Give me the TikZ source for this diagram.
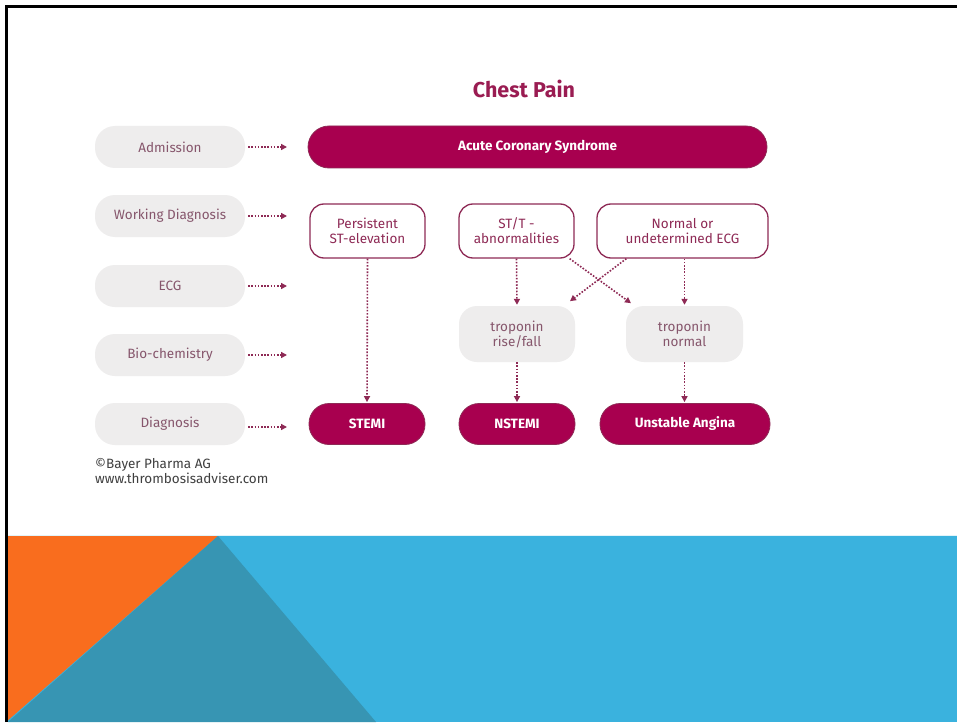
\documentclass[tikz,border=0pt]{standalone}
\usepackage{fontspec}
\setmainfont{Fira Sans}
\usetikzlibrary{arrows.meta}
\definecolor{acsred}{HTML}{A8004F}
\definecolor{acsline}{HTML}{8E2A55}
\definecolor{stagegray}{HTML}{EEEDED}
\definecolor{stagetext}{HTML}{86566C}
\definecolor{titlered}{HTML}{9A1C52}
\definecolor{bandorange}{HTML}{F96D1E}
\definecolor{bandblue}{HTML}{3AB2DE}
\definecolor{bandteal}{HTML}{3795B3}
\tikzset{
  stage/.style={fill=stagegray, rounded corners=20pt, minimum width=150pt,
    minimum height=42pt, inner sep=0pt, text=stagetext, font=\fontsize{13.5}{15}\selectfont},
  finding/.style={draw=acsline, line width=1.3pt, fill=white, rounded corners=14pt,
    minimum height=54pt, inner sep=0pt, align=center, text=acsline,
    font=\fontsize{13.5}{15}\selectfont},
  marker/.style={fill=stagegray, rounded corners=18pt, minimum height=56pt,
    inner sep=0pt, align=center, text=stagetext, font=\fontsize{13.5}{15}\selectfont},
  outcome/.style={fill=acsred, draw=acsline, line width=0.8pt, rounded corners=20pt,
    minimum height=41pt, inner sep=0pt, text=white, font=\bfseries\fontsize{13.5}{15}\selectfont},
  flow/.style={draw=acsline, line width=1.6pt, dash pattern=on 1.6pt off 1.6pt,
    -{Triangle[length=6pt,width=6pt]}, shorten >=1pt}
}
\begin{document}
\begin{tikzpicture}[x=1pt,y=-1pt]
\useasboundingbox (0,0) rectangle (957,722);
\fill[white] (0,0) rectangle (957,722);

% coloured band at the foot of the slide
\fill[bandblue] (6,536) rectangle (957,722);
\fill[bandorange] (6,536) -- (218,536) -- (6,722) -- cycle;
\fill[bandteal] (218,536) -- (376,722) -- (8,722) -- cycle;
\draw[white!85!bandblue, line width=1pt] (6,535.5) -- (957,535.5);

% slide frame
\draw[black, line width=3pt] (6.5,722) -- (6.5,6.5) -- (957,6.5);

% title
\node[text=titlered, font=\bfseries\fontsize{21.5}{24}\selectfont] (title) at (524,89) {Chest Pain};

% stage labels
\node[stage] (adm) at (170,147) {Admission};
\node[stage] (work) at (170,216) {Working Diagnosis};
\node[stage] (ecg) at (170,286) {ECG};
\node[stage] (bio) at (170,355) {Bio-chemistry};
\node[stage] (dia) at (170,424) {Diagnosis};

\coordinate (admE) at (288,147);
\coordinate (workE) at (288,216);
\coordinate (ecgE) at (288,286);
\coordinate (bioE) at (288,355);
\coordinate (diaE) at (288,427);
\foreach \s/\e in {adm/admE, work/workE, ecg/ecgE, bio/bioE, dia/diaE} {
  \draw[flow] ([xshift=3pt]\s.east |- \e) -- (\e);
}

% diagram boxes
\node[outcome, minimum width=459pt, rounded corners=21pt, minimum height=42pt] (acs) at (537.5,147) {Acute Coronary Syndrome};

\node[finding, minimum width=115pt] (stel) at (367.5,231) {Persistent\\ST-elevation};
\node[finding, minimum width=115pt] (stt) at (516.5,231) {ST/T -\\abnormalities};
\node[finding, minimum width=171pt] (norm) at (682.5,231) {Normal or\\undetermined ECG};

\node[marker, minimum width=116pt] (trise) at (517,334) {troponin\\rise/fall};
\node[marker, minimum width=117pt] (tnorm) at (684.5,334) {troponin\\normal};

\node[outcome, minimum width=116pt] (stemi) at (367,424) {STEMI};
\node[outcome, minimum width=116pt] (nstemi) at (517,424) {NSTEMI};
\node[outcome, minimum width=170pt] (ua) at (685,424) {Unstable Angina};

% connectors
\draw[flow] (stel.south) -- (stemi.north);
\draw[flow] (stt.south) -- (trise.north);
\draw[flow] (norm.south -| tnorm.north) -- (tnorm.north);
\draw[flow] ([xshift=-5pt]stt.south east) -- ([xshift=6pt,yshift=2pt]tnorm.north west);
\draw[flow] ([xshift=30pt]norm.south west) -- ([xshift=-6pt,yshift=4pt]trise.north east);
\draw[flow] (trise.south) -- (nstemi.north);
\draw[flow] (tnorm.south) -- (tnorm.south |- ua.north);

% credit
\node[anchor=north west, align=left, text=black!75, inner sep=0pt,
  font=\fontsize{13.5}{15.5}\selectfont] (credit) at (95,458) {©Bayer Pharma AG\\www.thrombosisadviser.com};
\end{tikzpicture}
\end{document}
